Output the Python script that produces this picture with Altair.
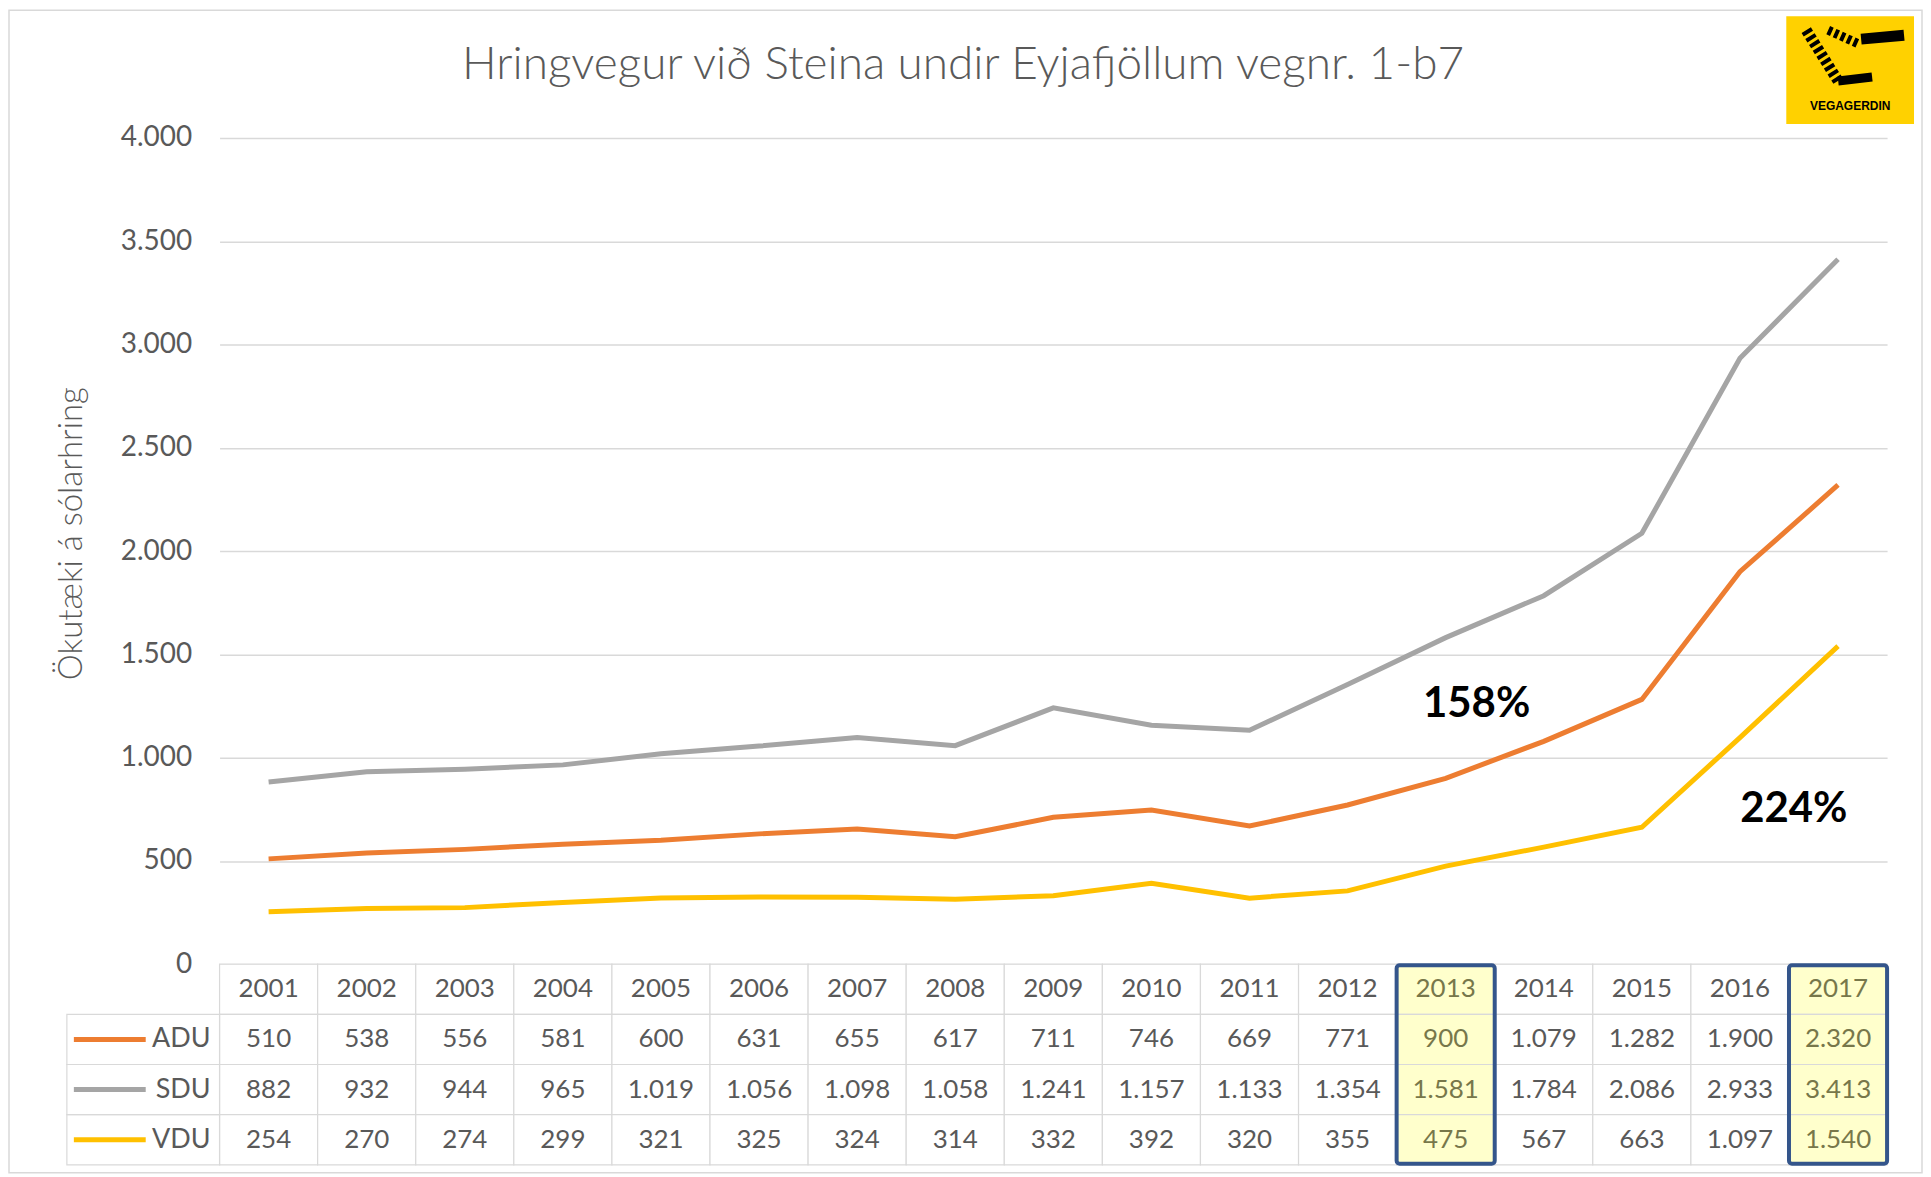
import altair as alt
import pandas as pd

# ---------------- data ----------------
years = list(range(2001, 2018))
adu = [510, 538, 556, 581, 600, 631, 655, 617, 711, 746, 669, 771, 900, 1079, 1282, 1900, 2320]
sdu = [882, 932, 944, 965, 1019, 1056, 1098, 1058, 1241, 1157, 1133, 1354, 1581, 1784, 2086, 2933, 3413]
vdu = [254, 270, 274, 299, 321, 325, 324, 314, 332, 392, 320, 355, 475, 567, 663, 1097, 1540]
series_names = ["ADU", "SDU", "VDU"]
series_colors = ["#ED7D31", "#A5A5A5", "#FFC000"]
highlight_years = [2013, 2017]
annot_labels = ["158%", "224%"]
annot_years = [2013, 2016]
annot_values = [1261, 749]
y_ticks = [0, 500, 1000, 1500, 2000, 2500, 3000, 3500, 4000]
title_text = "Hringvegur við Steina undir Eyjafjöllum vegnr. 1-b7"
y_title = "Ökutæki á sólarhring"
logo_text = "VEGAGERDIN"

FONT = "Lato"
GRAY_TXT = "#595959"
GRID = "#D9D9D9"

W, HA, HB = 1671, 828, 201


def fmt(v):
    return f"{v:,}".replace(",", ".")


rows = []
for name, vals in zip(series_names, [adu, sdu, vdu]):
    for yr, v in zip(years, vals):
        rows.append({"year": yr, "series": name, "value": v})
line_df = pd.DataFrame(rows)

cells = []
for yr in years:
    cells.append({"year": yr, "row": "Year", "label": str(yr)})
for name, vals in zip(series_names, [adu, sdu, vdu]):
    for yr, v in zip(years, vals):
        cells.append({"year": yr, "row": name, "label": fmt(v)})
table_df = pd.DataFrame(cells)

x_scale = alt.Scale(type="band", paddingInner=0, paddingOuter=0)
x_band = alt.X("year:O", scale=x_scale, axis=None)
x_mid = alt.X("year:O", scale=x_scale, axis=None, bandPosition=0.5)
color_enc = alt.Color("series:N", scale=alt.Scale(domain=series_names, range=series_colors), legend=None)
dummy = pd.DataFrame({"d": [0]})

# ---------------- top chart: lines ----------------
lines = alt.Chart(line_df).mark_line(strokeWidth=5).encode(
    x=x_mid,
    y=alt.Y(
        "value:Q",
        scale=alt.Scale(domain=[0, 4000], nice=False),
        axis=alt.Axis(
            values=y_ticks,
            labelExpr="replace(format(datum.value, ','), ',', '.')",
            labelFont=FONT,
            labelFontSize=28,
            labelColor=GRAY_TXT,
            labelPadding=28,
            ticks=False,
            tickSize=0,
            domain=False,
            grid=True,
            gridColor=GRID,
            gridWidth=1.5,
            title=y_title,
            titleFont=FONT,
            titleFontSize=33,
            titleFontWeight=300,
            titleColor=GRAY_TXT,
            titleAngle=270,
            titleX=-148,
            titleY=396,
            titleAlign="center",
            titleBaseline="middle",
        ),
    ),
    color=color_enc,
)

annot_df = pd.DataFrame({"year": annot_years, "value": annot_values, "label": annot_labels})
annot1 = alt.Chart(annot_df[annot_df.label == annot_labels[0]]).mark_text(
    font=FONT, fontSize=42, fontWeight="bold", color="black", dx=31, baseline="middle"
).encode(x=x_mid, y="value:Q", text="label:N")
annot2 = alt.Chart(annot_df[annot_df.label == annot_labels[1]]).mark_text(
    font=FONT, fontSize=42, fontWeight="bold", color="black", dx=54, baseline="middle"
).encode(x=x_mid, y="value:Q", text="label:N")

title = alt.Chart(pd.DataFrame({"t": [title_text]})).mark_text(
    font=FONT, fontSize=46, fontWeight=300, color=GRAY_TXT, align="center", baseline="middle"
).encode(x=alt.value(745), y=alt.value(-73), text="t:N")

frame = alt.Chart(dummy).mark_rect(filled=False, stroke="#D9D9D9", strokeWidth=1.5).encode(
    x=alt.value(-211), x2=alt.value(1706), y=alt.value(-128), y2=alt.value(1037)
)

# logo (decoration)
logo_box = alt.Chart(dummy).mark_rect(fill="#FFD100").encode(
    x=alt.value(1570), x2=alt.value(1698), y=alt.value(-122), y2=alt.value(-14)
)
logo_top = alt.Chart(dummy).mark_rule(color="black", strokeWidth=11).encode(
    x=alt.value(1645), x2=alt.value(1688), y=alt.value(-99), y2=alt.value(-103)
)
logo_bot = alt.Chart(dummy).mark_rule(color="black", strokeWidth=9).encode(
    x=alt.value(1622), x2=alt.value(1656), y=alt.value(-57), y2=alt.value(-61)
)
logo_hatch1 = alt.Chart(dummy).mark_rule(color="black", strokeWidth=11, strokeDash=[4, 3]).encode(
    x=alt.value(1590), x2=alt.value(1622), y=alt.value(-108), y2=alt.value(-57)
)
logo_hatch2 = alt.Chart(dummy).mark_rule(color="black", strokeWidth=9, strokeDash=[4, 3]).encode(
    x=alt.value(1612), x2=alt.value(1643), y=alt.value(-108), y2=alt.value(-94)
)
logo_txt = alt.Chart(pd.DataFrame({"t": [logo_text]})).mark_text(
    font="Liberation Sans", fontSize=12, fontWeight="bold", color="black", align="center", baseline="middle"
).encode(x=alt.value(1634), y=alt.value(-32), text="t:N")

top = alt.layer(
    frame, title, logo_box, logo_hatch1, logo_hatch2, logo_top, logo_bot, logo_txt,
    lines, annot1, annot2
).properties(width=W, height=HA)

# ---------------- bottom chart: data table ----------------
row_scale = alt.Scale(domain=["Year"] + series_names, paddingInner=0, paddingOuter=0)
y_band = alt.Y("row:N", scale=row_scale, axis=None)
y_mid = alt.Y("row:N", scale=row_scale, axis=None, bandPosition=0.5)
is_hl = alt.FieldOneOfPredicate(field="year", oneOf=highlight_years)

cell_rects = alt.Chart(table_df).mark_rect(stroke=GRID, strokeWidth=1.2).encode(
    x=x_band,
    y=y_band,
    fill=alt.condition(is_hl, alt.value("#FFFFCC"), alt.value("white")),
)
cell_text = alt.Chart(table_df).mark_text(font=FONT, fontSize=26, baseline="middle").encode(
    x=x_mid,
    y=y_mid,
    text="label:N",
    color=alt.condition(is_hl, alt.value("#77774A"), alt.value(GRAY_TXT)),
)
outline = alt.Chart(pd.DataFrame({"year": highlight_years})).mark_rect(
    filled=False, stroke="#34558B", strokeWidth=4, cornerRadius=3
).encode(x=x_band, y=alt.value(1), y2=alt.value(HB - 1))

series_df = pd.DataFrame({"row": series_names, "series": series_names})
label_col = alt.Chart(series_df).mark_rect(filled=False, stroke=GRID, strokeWidth=1.2).encode(
    x=alt.value(-153), x2=alt.value(0), y=y_band
)
keys = alt.Chart(series_df).mark_rule(strokeWidth=5).encode(
    x=alt.value(-146), x2=alt.value(-74), y=y_mid, color=color_enc
)
row_labels = alt.Chart(series_df).mark_text(
    font=FONT, fontSize=27, color=GRAY_TXT, align="right", baseline="middle"
).encode(x=alt.value(-9), y=y_mid, text="row:N")

bottom = alt.layer(cell_rects, label_col, cell_text, outline, keys, row_labels).properties(width=W, height=HB)

chart = alt.vconcat(top, bottom, spacing=0, bounds="flush").properties(
    padding=0, background="white"
).configure(font=FONT).configure_view(strokeWidth=0, stroke=None)

chart.save("out.html", embed_options={"renderer": "svg", "actions": False})
